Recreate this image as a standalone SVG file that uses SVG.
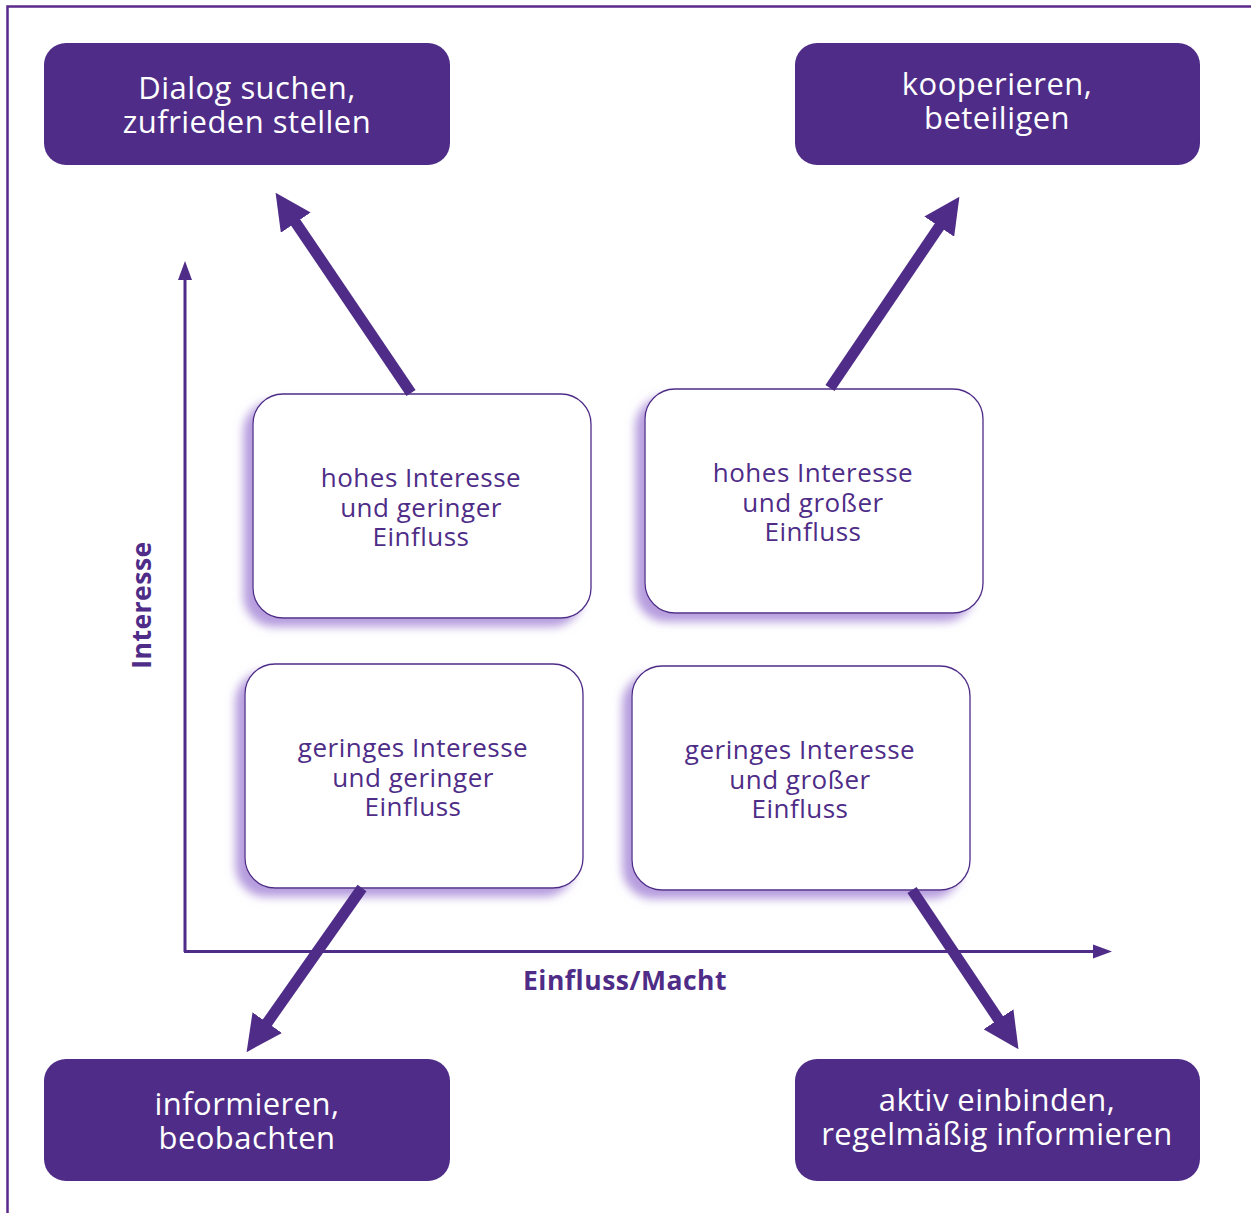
<svg xmlns="http://www.w3.org/2000/svg" width="1251" height="1213" viewBox="0 0 1251 1213">
<defs>
<filter id="sh" x="-20%" y="-20%" width="140%" height="140%">
<feGaussianBlur in="SourceAlpha" stdDeviation="5"/>
<feOffset dx="-9" dy="8" result="b"/>
<feFlood flood-color="#a98bd8" flood-opacity="0.85"/>
<feComposite in2="b" operator="in"/>
<feMerge><feMergeNode/><feMergeNode in="SourceGraphic"/></feMerge>
</filter>
<marker id="big" markerUnits="userSpaceOnUse" viewBox="0 0 36 36" refX="1" refY="18" markerWidth="36" markerHeight="36" orient="auto">
<path d="M0,0 L36,18 L0,36 z" fill="#4e2c87"/>
</marker>
<marker id="small" markerUnits="userSpaceOnUse" viewBox="0 0 20 20" refX="1" refY="10" markerWidth="20" markerHeight="20" orient="auto">
<path d="M0,3 L19,10 L0,17 z" fill="#4e2c87"/>
</marker>
</defs>
<style>
.dark rect{fill:#4e2c87;}
.dark text{fill:#ffffff;font-family:"Open Sans","Liberation Sans",sans-serif;font-size:31px;letter-spacing:0.45px;text-anchor:middle;}
.mid rect{fill:#ffffff;stroke:#4e2c87;stroke-width:1.3;}
.mid text{fill:#4e2c87;font-family:"Open Sans","Liberation Sans",sans-serif;font-size:26px;letter-spacing:0.5px;text-anchor:middle;}
.lab{fill:#4e2c87;font-family:"Open Sans","Liberation Sans",sans-serif;font-size:26.5px;letter-spacing:0.5px;font-weight:bold;text-anchor:middle;}
.thick{stroke:#4e2c87;stroke-width:11;fill:none;marker-end:url(#big);}
.axis{stroke:#4e2c87;stroke-width:3;fill:none;marker-end:url(#small);}
</style>
<rect width="1251" height="1213" fill="#ffffff"/>
<path d="M7.5,1213 V6.5 H1251" fill="none" stroke="#5b2a8c" stroke-width="2.5"/>

<g id="box-tl" class="dark">
<rect x="44" y="43" width="406" height="122" rx="22"/>
<text x="247" y="99">Dialog suchen,<tspan x="247" y="133">zufrieden stellen</tspan></text>
</g>
<g id="box-tr" class="dark">
<rect x="795" y="43" width="405" height="122" rx="22"/>
<text x="997" y="95">kooperieren,<tspan x="997" y="129">beteiligen</tspan></text>
</g>
<g id="box-bl" class="dark">
<rect x="44" y="1059" width="406" height="122" rx="22"/>
<text x="247" y="1115">informieren,<tspan x="247" y="1149">beobachten</tspan></text>
</g>
<g id="box-br" class="dark">
<rect x="795" y="1059" width="405" height="122" rx="22"/>
<text x="997" y="1111">aktiv einbinden,<tspan x="997" y="1145">regelmäßig informieren</tspan></text>
</g>

<g id="axes">
<line class="axis" x1="185" y1="952" x2="185" y2="279"/>
<line class="axis" x1="184" y1="951.5" x2="1094" y2="951.5"/>
</g>
<text class="lab" x="625" y="990">Einfluss/Macht</text>
<text class="lab" transform="translate(151,605) rotate(-90)">Interesse</text>

<g id="q-tl" class="mid">
<rect x="253" y="394" width="338" height="224" rx="30" filter="url(#sh)"/>
<text x="421" y="487">hohes Interesse<tspan x="421" y="517">und geringer</tspan><tspan x="421" y="546">Einfluss</tspan></text>
</g>
<g id="q-tr" class="mid">
<rect x="645" y="389" width="338" height="224" rx="30" filter="url(#sh)"/>
<text x="813" y="482">hohes Interesse<tspan x="813" y="512">und großer</tspan><tspan x="813" y="541">Einfluss</tspan></text>
</g>
<g id="q-bl" class="mid">
<rect x="245" y="664" width="338" height="224" rx="30" filter="url(#sh)"/>
<text x="413" y="757">geringes Interesse<tspan x="413" y="787">und geringer</tspan><tspan x="413" y="816">Einfluss</tspan></text>
</g>
<g id="q-br" class="mid">
<rect x="632" y="666" width="338" height="224" rx="30" filter="url(#sh)"/>
<text x="800" y="759">geringes Interesse<tspan x="800" y="789">und großer</tspan><tspan x="800" y="818">Einfluss</tspan></text>
</g>

<g id="connectors">
<line class="thick" x1="411" y1="393" x2="295.2" y2="221.8"/>
<line class="thick" x1="830" y1="388" x2="939.8" y2="225.8"/>
<line class="thick" x1="362" y1="888" x2="266.7" y2="1023.5"/>
<line class="thick" x1="912" y1="890" x2="999" y2="1020.1"/>
</g>
</svg>
